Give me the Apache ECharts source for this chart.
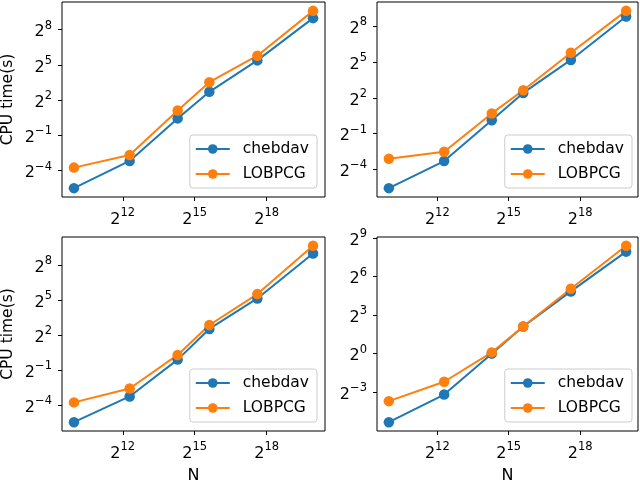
<!DOCTYPE html>
<html lang="en" style="height: 100%">
<head>
  <meta charset="utf-8">
</head>
<body style="height: 100%; margin: 0">
  <div id="container" style="width: 640px; height: 480px"></div>

  <script type="text/javascript" src="https://cdn.jsdelivr.net/npm/echarts@6/dist/echarts.min.js"></script>
  <script type="text/javascript">
    var dom = document.getElementById('container');
    var myChart = echarts.init(dom, null, { renderer: 'canvas' });

    // problem size N (same for every panel)
    var sizes = [1000, 5000, 20000, 50000, 200000, 1000000];

    // CPU time (s)
    var chebTL = [0.0221, 0.110, 1.36, 6.54, 41.9, 508];
    var lobTL  = [0.0743, 0.156, 2.17, 11.55, 55.3, 781];
    var chebTR = [0.0210, 0.1015, 1.087, 5.35, 36.5, 458];
    var lobTR  = [0.1166, 0.1743, 1.625, 6.28, 55.7, 635];
    var chebBL = [0.0230, 0.1058, 0.9395, 5.78, 35.3, 505];
    var lobBL  = [0.0743, 0.1696, 1.24, 7.31, 45.6, 798];
    var chebBR = [0.0247, 0.110, 1.0, 4.35, 28.8, 247];
    var lobBR  = [0.0769, 0.219, 1.07, 4.35, 33.4, 338];

    // tick exponents (powers of two)
    var xTicks = [12, 15, 18];
    var yTicksA = [-4, -1, 2, 5, 8];
    var yTicksB = [-3, 0, 3, 6, 9];

    var BLUE = '#1f77b4', ORANGE = '#ff7f0e';
    var FONT = 'DejaVu Sans';

    var panels = [
      { cheb: chebTL, lob: lobTL, yt: yTicksA, grid: { left: 62, top: 2, width: 263, height: 195 }, ylab: true, xlab: false, leg: { right: 323, top: 135 } },
      { cheb: chebTR, lob: lobTR, yt: yTicksA, grid: { left: 377, top: 2, width: 261, height: 195 }, ylab: false, xlab: false, leg: { right: 8, top: 135 } },
      { cheb: chebBL, lob: lobBL, yt: yTicksA, grid: { left: 62, top: 237, width: 263, height: 194 }, ylab: true, xlab: true, leg: { right: 323, top: 369 } },
      { cheb: chebBR, lob: lobBR, yt: yTicksB, grid: { left: 377, top: 237, width: 261, height: 194 }, ylab: false, xlab: true, leg: { right: 8, top: 369 } }
    ];

    function pow2(v) {
      var e = v < 0 ? '\u2212' + (-v) : String(v);
      return '{b|2}{e|' + e + '}';
    }
    var rich = {
      b: { fontFamily: FONT, fontSize: 16, color: '#000', padding: [5, 0, 0, 0] },
      e: { fontFamily: FONT, fontSize: 11.5, color: '#000', padding: [0, 0, 8, 0] }
    };

    function pairs(ys) {
      return sizes.map(function (n, i) { return [Math.log2(n), Math.log2(ys[i])]; });
    }
    function padRange(lo, hi) {
      var s = hi - lo;
      return [lo - 0.05 * s, hi + 0.05 * s];
    }

    var xl = padRange(Math.log2(sizes[0]), Math.log2(sizes[sizes.length - 1]));

    var grids = [], xAxes = [], yAxes = [], series = [], legends = [];
    panels.forEach(function (p, k) {
      var all = p.cheb.concat(p.lob).map(Math.log2);
      var yl = padRange(Math.min.apply(null, all), Math.max.apply(null, all));
      grids.push(Object.assign({
        show: true, borderColor: '#000', borderWidth: 1, backgroundColor: 'transparent',
        containLabel: false, outerBoundsMode: 'none'
      }, p.grid));
      xAxes.push({
        type: 'value', gridIndex: k, min: xl[0], max: xl[1],
        axisLine: { show: false, onZero: false }, splitLine: { show: false },
        axisTick: { show: true, length: 4, lineStyle: { color: '#000' }, customValues: xTicks },
        axisLabel: { margin: 10, customValues: xTicks, formatter: pow2, rich: rich },
        name: p.xlab ? 'N' : '', nameLocation: 'middle', nameGap: 37,
        nameTextStyle: { fontFamily: FONT, fontSize: 16, color: '#000' }
      });
      yAxes.push({
        type: 'value', gridIndex: k, min: yl[0], max: yl[1],
        axisLine: { show: false, onZero: false }, splitLine: { show: false },
        axisTick: { show: true, length: 4, lineStyle: { color: '#000' }, customValues: p.yt },
        axisLabel: { margin: 10, customValues: p.yt, formatter: pow2, rich: rich },
        name: p.ylab ? 'CPU time(s)' : '', nameLocation: 'middle', nameGap: 46,
        nameTextStyle: { fontFamily: FONT, fontSize: 15.5, color: '#000' }
      });
      [['chebdav', p.cheb, BLUE], ['LOBPCG', p.lob, ORANGE]].forEach(function (s) {
        series.push({
          name: s[0], type: 'line', xAxisIndex: k, yAxisIndex: k,
          data: pairs(s[1]), symbol: 'circle', symbolSize: 10.5,
          itemStyle: { color: s[2] }, lineStyle: { color: s[2], width: 2 },
          animation: false
        });
      });
      legends.push({
        orient: 'vertical', right: p.leg.right, top: p.leg.top,
        data: ['chebdav', 'LOBPCG'],
        itemWidth: 34, itemHeight: 12, itemGap: 9,
        padding: [6, 8, 6, 5],
        backgroundColor: 'rgba(255,255,255,0.8)', borderColor: '#cccccc', borderWidth: 1, borderRadius: 3,
        textStyle: { fontFamily: FONT, fontSize: 15.5, color: '#000', padding: [0, 0, 0, 8] },
        selectedMode: false
      });
    });

    var option = {
      animation: false,
      grid: grids,
      xAxis: xAxes,
      yAxis: yAxes,
      legend: legends,
      series: series
    };

    myChart.setOption(option);
    window.addEventListener('resize', myChart.resize);
  </script>
</body>
</html>
